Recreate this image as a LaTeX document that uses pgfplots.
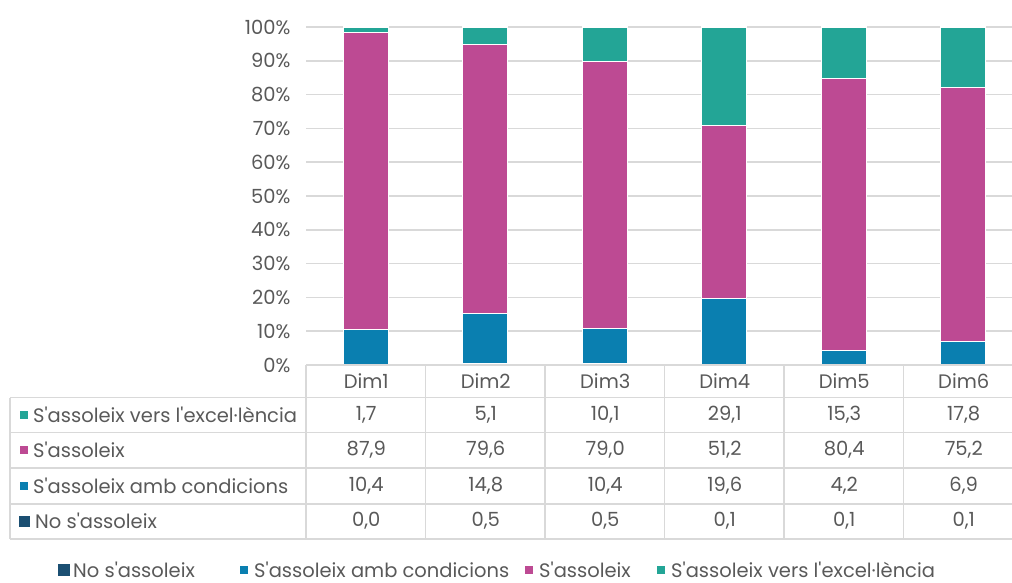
\documentclass[border=0pt]{standalone}
\usepackage{pgfplots}
\pgfplotsset{compat=1.18}
\usepackage{fontspec}
\setmainfont{Poppins}
\definecolor{cNo}{HTML}{1B4F72}
\definecolor{cCond}{HTML}{0A7FB0}
\definecolor{cAss}{HTML}{BD4A93}
\definecolor{cExc}{HTML}{23A596}
\definecolor{gridc}{HTML}{D9D9D9}
\definecolor{txt}{HTML}{595959}
\newcommand{\tf}{\fontsize{19.5}{22}\selectfont}
\newcommand{\q}{\textquotesingle}
\begin{document}
\begin{tikzpicture}[x=1pt,y=1pt]
\useasboundingbox (0,0) rectangle (1012,-583);
\begin{axis}[
  at={(306pt,-365pt)}, anchor=south west,
  scale only axis, width=717pt, height=338pt,
  xmin=-0.5, xmax=5.5, ymin=0, ymax=100,
  ybar stacked, bar width=45pt,
  axis line style={draw=none},
  xtick=\empty,
  ytick={0,10,...,100},
  yticklabel={\pgfmathprintnumber[assume math mode=true]{\tick}\%},
  yticklabel style={font=\tf, text=txt, xshift=-12pt},
  major tick length=0pt,
  ymajorgrids, grid style={line width=1.5pt, gridc},
  clip=false,
]
\addplot[fill=cNo, draw=white, line width=1.2pt] coordinates {(0,0.0) (1,0.5) (2,0.5) (3,0.1) (4,0.1) (5,0.1)};
\addplot[fill=cCond, draw=white, line width=1.2pt] coordinates {(0,10.4) (1,14.8) (2,10.4) (3,19.6) (4,4.2) (5,6.9)};
\addplot[fill=cAss, draw=white, line width=1.2pt] coordinates {(0,87.9) (1,79.6) (2,79.0) (3,51.2) (4,80.4) (5,75.2)};
\addplot[fill=cExc, draw=white, line width=1.2pt] coordinates {(0,1.7) (1,5.1) (2,10.1) (3,29.1) (4,15.3) (5,17.8)};
\end{axis}
% table grid
\begin{scope}[draw=gridc, line width=1.5pt]
\draw (306,-365) -- (1023,-365);
\foreach \yy in {397.5,432.5,468,504,539} \draw (10,-\yy) -- (1023,-\yy);
\foreach \xx in {306,425.5,545,664.5,784,903.5,1023} \draw (\xx,-365) -- (\xx,-539);
\draw (10,-397.5) -- (10,-539);
\end{scope}
% header and values
\foreach \k in {1,...,6} \node[font=\tf, text=txt] at ({366.25+119.5*(\k-1)},-381) {Dim\k};
\foreach \v [count=\k from 0] in {{1,7},{5,1},{10,1},{29,1},{15,3},{17,8}} \node[font=\tf, text=txt] at ({366.25+119.5*\k},-415) {\v};
\foreach \v [count=\k from 0] in {{87,9},{79,6},{79,0},{51,2},{80,4},{75,2}} \node[font=\tf, text=txt] at ({366.25+119.5*\k},-450) {\v};
\foreach \v [count=\k from 0] in {{10,4},{14,8},{10,4},{19,6},{4,2},{6,9}} \node[font=\tf, text=txt] at ({366.25+119.5*\k},-486) {\v};
\foreach \v [count=\k from 0] in {{0,0},{0,5},{0,5},{0,1},{0,1},{0,1}} \node[font=\tf, text=txt] at ({366.25+119.5*\k},-521) {\v};
% row labels
\fill[cExc] (20,-411) rectangle (28,-419);
\node[font=\tf, text=txt, anchor=west, inner sep=0pt] at (33,-415) {S\q assoleix vers l\q excel·lència};
\fill[cAss] (20,-446) rectangle (28,-454);
\node[font=\tf, text=txt, anchor=west, inner sep=0pt] at (33,-450) {S\q assoleix};
\fill[cCond] (20,-482) rectangle (28,-490);
\node[font=\tf, text=txt, anchor=west, inner sep=0pt] at (33,-486) {S\q assoleix amb condicions};
\fill[cNo] (19,-516) rectangle (30,-527);
\node[font=\tf, text=txt, anchor=west, inner sep=0pt] at (35,-521) {No s\q assoleix};
% legend
\fill[cNo] (58,-564) rectangle (70,-576);
\node[font=\tf, text=txt, anchor=west, inner sep=0pt] at (73,-570) {No s\q assoleix};
\fill[cCond] (240,-566) rectangle (248,-574);
\node[font=\tf, text=txt, anchor=west, inner sep=0pt] at (254,-570) {S\q assoleix amb condicions};
\fill[cAss] (525,-566) rectangle (533,-574);
\node[font=\tf, text=txt, anchor=west, inner sep=0pt] at (539,-570) {S\q assoleix};
\fill[cExc] (657,-566) rectangle (665,-574);
\node[font=\tf, text=txt, anchor=west, inner sep=0pt] at (671,-570) {S\q assoleix vers l\q excel·lència};
\end{tikzpicture}
\end{document}
